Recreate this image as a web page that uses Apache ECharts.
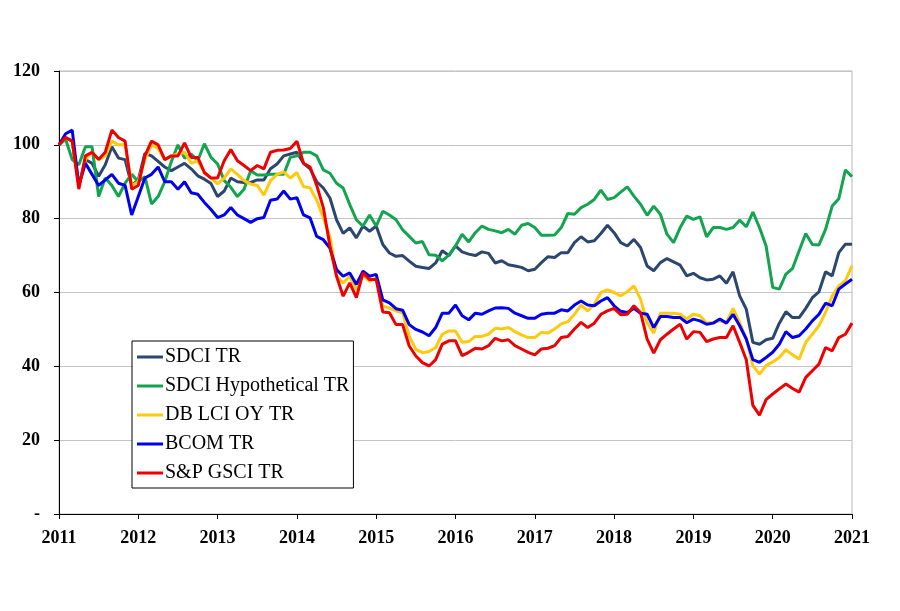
<!DOCTYPE html>
<html><head><meta charset="utf-8">
<script src="https://cdn.jsdelivr.net/npm/echarts@6/dist/echarts.min.js"></script>
<style>html,body{margin:0;padding:0;background:#fff}#c{width:900px;height:611px}</style>
</head><body><div id="c"></div>
<script>
// monthly observations, Jan 2011 .. Jan 2021
const startYear = 2011, endYear = 2021;
const months = [];
for (let y = startYear; y <= endYear; y++) for (let m = 1; m <= 12; m++) { if (y === endYear && m > 1) break; months.push(y + '-' + String(m).padStart(2, '0')); }

const seriesNames = ['SDCI TR', 'SDCI Hypothetical TR', 'DB LCI OY TR', 'BCOM TR', 'S&P GSCI TR'];

const sdciTR = [100,102,101,89,96,95,91.5,94.6,99.5,96.4,96,89,90.5,97.7,97,95.5,94,93,94,95,
93.5,91.6,90.7,89.5,86,87.5,91,90,89.8,89.8,90.5,90.5,93.5,94.8,97,97.5,98,95,93.5,90,
88.3,85.6,79.7,76,77.5,74.8,78,76.6,78,73,70.7,69.8,70,68.5,67.1,66.8,66.5,68,71.3,70,
72.6,71,70.4,70,71,70.6,68,68.6,67.5,67.2,66.8,65.9,66.3,68.1,69.7,69.5,70.8,70.8,73.5,75.1,
73.7,74,76,78.2,76.2,73.5,72.6,74.4,72.2,67.2,65.9,68.1,69.2,68.3,67.4,64.5,65.2,64,63.4,63.6,
64.5,62.5,65.6,59.1,55.5,46.5,46,47.2,47.6,51.7,54.8,53.2,53.2,55.7,58.6,60.2,65.6,64.5,70.8,73.1,73.1];

const sdciHypTR = [100,101.5,96,94.6,99.5,99.5,86,91,89,86,89.6,92,90,91.4,84,86,90,95.5,100,96.4,
97.5,95.7,100.3,96.6,94.8,90.3,88.5,86,88,93,91.8,91.8,92,92,92,96.6,97,98,98,97,
93.2,92.3,89.6,88.3,83.8,79.7,78,81,78,82,81,79.7,77,75.2,73.4,73.8,70.2,70.1,68.6,70.1,
72.6,75.8,73.7,76.2,78,77.1,76.7,76.2,77.1,75.8,78.2,78.7,77.6,75.5,75.5,75.6,77.6,81.4,81.2,83,
83.9,85.2,87.7,85.2,85.7,87.2,88.6,86.1,83.9,80.9,83.4,81.2,75.8,73.5,77.6,80.7,79.8,80.5,75.1,77.6,
77.6,77.1,77.6,79.6,77.8,81.8,77.6,72.6,61.4,60.9,65,66.5,71.3,76,73,72.9,77.1,83.4,85.4,93.2,91.4];

const dbLciTR = [100,102,101,89,96,98,96,97,101,100,100,89,90,96,100,99,96,97,97.5,98,
95,95.7,92.5,91,89.4,91,93.5,92,90.3,89.4,89,86.4,90.3,92,92.7,91,92.5,88.7,88.3,85,
80.2,75.2,64.4,62.6,64.4,60.8,64.9,63,64,56.3,55.8,55,54.5,48.2,44.6,43.7,44,45.1,48.7,49.6,
49.6,46.5,46.7,48.1,48.1,48.7,50.3,50.1,50.5,49.4,48.5,47.8,47.8,49.2,49,50.1,51.5,52.1,54.1,56.6,
55,56.8,60,60.7,60,59.1,60.2,61.8,58.2,51.9,49,54.4,54.4,54.4,54.1,52.8,54.1,53.7,51.7,51.9,
52.3,51.9,55.7,51.9,47.4,40.2,37.9,40.2,41.2,42.4,44.5,43.1,42,46.5,48.7,51,54.6,59.1,61.8,63.2,67.2];

const bcomTR = [100,103,104,89,95,92,89,90.5,92,89.6,89,81,86,91,92,94,90,90,88,90,
87,86.6,84.4,82.5,80.3,81,83,81,80,79,80,80.3,85,85.3,87.5,85.3,85.7,81,80.2,75.2,
74.3,72,66.2,64.4,65.3,62.2,65.8,64.4,64.9,58,57.2,55.6,55.2,51.3,50,49.3,48.3,50.5,54.4,54.4,
56.6,53.7,52.6,54.4,54.1,55,55.8,55.9,55.7,54.4,53.7,53,53,54.1,54.4,54.4,55.3,55,56.6,57.7,
56.6,56.4,57.7,58.6,56.4,54.9,54.6,55.7,54.4,54.1,50.5,53.5,53.5,53.2,53.2,51.8,52.8,52.3,51.4,51.7,
52.8,51.7,54.1,51,47.4,41.8,41.1,42.4,43.8,46,49.4,47.8,48.3,50.1,52.3,54.1,57.1,56.4,60.9,62.3,63.6];

const spgsciTR = [100,102,101,88,97,98,96,98,104,102,101,88,89,97,101,100,96,97,97,100.5,
96.6,96.6,92.5,91,91,95.7,98.7,95.7,94.4,93,94.4,93.5,98,98.5,98.6,99,101,95,94,89,
83,72.5,64.4,59,62.6,58.6,65.3,63.5,63.5,54.7,54.5,51.3,51.3,45.5,42.8,41,40.1,41.8,46,46.9,
46.9,42.9,43.8,44.9,44.7,45.6,47.6,46.9,47.2,45.6,44.7,43.8,43.1,44.7,44.9,45.6,47.8,48.1,50.1,51.9,
50.5,51.7,54.1,55,55.7,54,54.1,56.4,54.6,47.4,43.6,47.2,48.7,50.1,51.4,47.4,49.4,49.2,46.7,47.4,
47.8,47.8,51,46.5,41.8,29.4,26.8,31,32.5,33.9,35.2,34,33,37,38.8,40.6,45.1,44.2,47.8,48.7,51.7];

const yTicks = [0, 20, 40, 60, 80, 100, 120];
const colors = ['#2B4770', '#12A44F', '#FFC90E', '#0000EE', '#EE0000'];
const allData = [sdciTR, sdciHypTR, dbLciTR, bcomTR, spgsciTR];

const chart = echarts.init(document.getElementById('c'), null, {renderer: 'canvas'});
const labelFont = {fontFamily: '"Liberation Serif", "DejaVu Serif", serif', fontWeight: 'bold', fontSize: 18, color: '#000'};
chart.setOption({
  animation: false,
  backgroundColor: '#fff',
  grid: {left: 59, right: 48, top: 71, bottom: 97, show: true, borderColor: '#b8b8b8', borderWidth: 1},
  xAxis: {
    type: 'category', data: months, boundaryGap: false,
    axisLine: {lineStyle: {color: '#000', width: 1}},
    axisTick: {show: true, inside: false, length: 5, interval: (i) => i % 12 === 0, lineStyle: {color: '#000'}},
    axisLabel: Object.assign({interval: (i) => i % 12 === 0, margin: 15, formatter: (v) => v.slice(0, 4)}, labelFont),
    splitLine: {show: false}
  },
  yAxis: {
    type: 'value', min: yTicks[0], max: yTicks[yTicks.length - 1], interval: 20,
    axisLine: {show: true, lineStyle: {color: '#000', width: 1}},
    axisTick: {show: true, inside: false, length: 5, lineStyle: {color: '#000'}},
    axisLabel: Object.assign({margin: 19, formatter: (v) => v === 0 ? '-' : String(v)}, labelFont),
    splitLine: {show: true, lineStyle: {color: '#c4c4c4', width: 1}}
  },
  legend: {
    orient: 'vertical', left: 132, top: 341,
    backgroundColor: '#fff', borderColor: '#000', borderWidth: 1,
    padding: [6, 4, 5, 5], itemGap: 9, itemWidth: 26, itemHeight: 20,
    icon: 'path://M0,8.5 L26,8.5 L26,11.5 L0,11.5 Z',
    textStyle: {fontFamily: '"Liberation Serif", "DejaVu Serif", serif', fontSize: 20, color: '#000', padding: [0, 0, 0, -3]},
    data: seriesNames
  },
  series: seriesNames.map((n, k) => ({
    name: n, type: 'line', data: allData[k], symbol: 'none', smooth: false,
    lineStyle: {color: colors[k], width: 3}, itemStyle: {color: colors[k]}
  }))
});
</script></body></html>
